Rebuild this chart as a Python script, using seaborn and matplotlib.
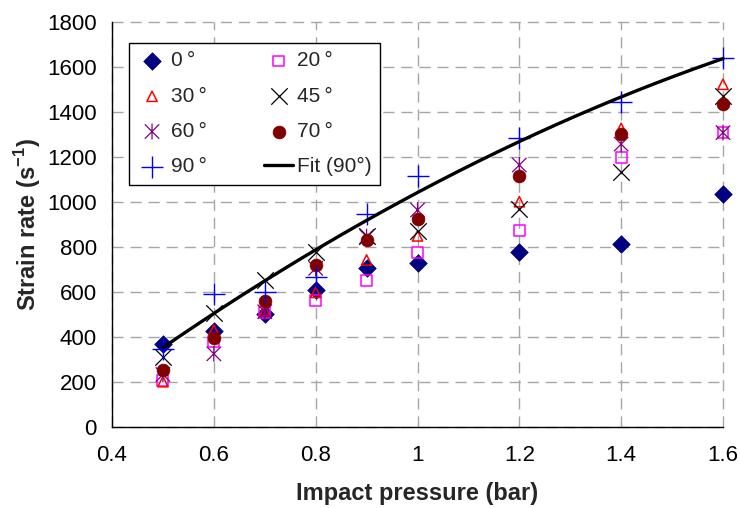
import numpy as np
import pandas as pd
import matplotlib
matplotlib.use("Agg")
import matplotlib.pyplot as plt
from matplotlib.path import Path
import seaborn as sns

# Impact pressure (bar) at which each series was measured
pressure = [0.5, 0.6, 0.7, 0.8, 0.9, 1.0, 1.2, 1.4, 1.6]

# Strain rate (1/s) per impact angle
rate_0 = [368, 425, 500, 608, 704, 726, 778, 811, 1033]
rate_20 = [207, 380, 507, 560, 649, 775, 874, 1197, 1307]
rate_30 = [200, 430, 515, 597, 741, 848, 1000, 1326, 1522]
rate_45 = [310, 504, 652, 778, 848, 871, 968, 1133, 1470]
rate_60 = [232, 324, 511, 704, 845, 963, 1163, 1256, 1307]
rate_70 = [252, 393, 560, 719, 830, 922, 1114, 1300, 1433]
rate_90 = [345, 588, 597, 667, 944, 1114, 1282, 1442, 1637]

angle_labels = ["0\u2009°", "20\u2009°", "30\u2009°", "45\u2009°",
                "60\u2009°", "70\u2009°", "90\u2009°"]
fit_label = "Fit (90°)"

x_ticks = [0.4, 0.6, 0.8, 1.0, 1.2, 1.4, 1.6]
x_tick_labels = ["0.4", "0.6", "0.8", "1", "1.2", "1.4", "1.6"]
y_ticks = [0, 200, 400, 600, 800, 1000, 1200, 1400, 1600, 1800]

sns.set_style("white")
plt.rcParams["font.family"] = ["Liberation Sans", "DejaVu Sans"]
plt.rcParams["mathtext.fontset"] = "custom"
plt.rcParams["mathtext.rm"] = "Liberation Sans"
plt.rcParams["mathtext.bf"] = "Liberation Sans:bold"

# Star marker: an "x" crossed by a vertical stroke
star = Path([(-0.5, -0.5), (0.5, 0.5), (-0.5, 0.5), (0.5, -0.5), (0, -0.55), (0, 0.55)],
            [Path.MOVETO, Path.LINETO, Path.MOVETO, Path.LINETO, Path.MOVETO, Path.LINETO])

series = [
    (rate_0, angle_labels[0], dict(marker="D", s=80, color="#000080", edgecolor="#000080", linewidths=0.5)),
    (rate_20, angle_labels[1], dict(marker="s", s=62, color="#FF00FF", facecolor="none", edgecolor="#FF00FF", linewidths=1.1)),
    (rate_30, angle_labels[2], dict(marker="^", s=55, color="#FF0000", facecolor="none", edgecolor="#FF0000", linewidths=1.1)),
    (rate_45, angle_labels[3], dict(marker="x", s=140, color="#000000", linewidths=0.9)),
    (rate_60, angle_labels[4], dict(marker=star, s=130, color="#800080", facecolor="none", edgecolor="#800080", linewidths=0.9)),
    (rate_70, angle_labels[5], dict(marker="o", s=85, color="#800000", edgecolor="#800000", linewidths=0.5)),
    (rate_90, angle_labels[6], dict(marker="+", s=240, color="#0000FF", linewidths=1.0)),
]

fig = plt.figure(figsize=(7.4, 5.08), dpi=100)
ax = fig.add_axes([112 / 740, 1 - 426.7 / 508, 611 / 740, 405 / 508])

for values, label, style in series:
    df = pd.DataFrame({"pressure": pressure, "rate": values})
    sns.scatterplot(data=df, x="pressure", y="rate", ax=ax, label=label,
                    clip_on=False, zorder=3, legend=False, **style)

# Second-order polynomial fit through the 90° measurements
coef = np.polyfit(pressure, rate_90, 2)
fit_x = np.linspace(pressure[0], pressure[-1], 200)
fit_df = pd.DataFrame({"pressure": fit_x, "rate": np.polyval(coef, fit_x)})
sns.lineplot(data=fit_df, x="pressure", y="rate", ax=ax, color="black",
             linewidth=2.4, label=fit_label, zorder=4, clip_on=False, legend=False)

ax.set_xlim(0.4, 1.6)
ax.set_ylim(0, 1800)
ax.set_xticks(x_ticks)
ax.set_xticklabels(x_tick_labels)
ax.set_yticks(y_ticks)

ax.grid(True, color="#a6a6a6", linestyle=(0, (8, 5)), linewidth=1.0)
ax.set_axisbelow(True)
for gl in ax.get_xgridlines() + ax.get_ygridlines():
    gl.set_clip_on(False)

for side in ("top", "right"):
    ax.spines[side].set_visible(False)
for side in ("left", "bottom"):
    ax.spines[side].set_color("black")
    ax.spines[side].set_linewidth(1.0)

ax.tick_params(axis="both", which="major", direction="out", length=5,
               width=0.8, color="#555555", labelsize=16, labelcolor="black")
ax.tick_params(axis="x", pad=8)
ax.tick_params(axis="y", pad=6)

ax.set_xlabel("Impact pressure (bar)", fontsize=17, fontweight="bold", labelpad=12)
ax.set_ylabel(r"Strain rate (s$^{\mathbf{-1}}$)", fontsize=17, fontweight="bold", labelpad=3)

handles, labels = ax.get_legend_handles_labels()
lookup = dict(zip(labels, handles))
order = [angle_labels[0], angle_labels[2], angle_labels[4], angle_labels[6],
         angle_labels[1], angle_labels[3], angle_labels[5], fit_label]
leg = ax.legend([lookup[k] for k in order], order, ncol=2, loc="upper left",
                bbox_to_anchor=(0.028, 0.947), borderaxespad=0, fontsize=15,
                frameon=True, fancybox=False, framealpha=1, edgecolor="black",
                labelspacing=0.78, handlelength=1.4, handletextpad=0.2,
                columnspacing=2.75, borderpad=0.4, scatterpoints=1)
leg.get_frame().set_linewidth(1.0)
leg.set_zorder(10)

fig.savefig("out.png", dpi=100)
